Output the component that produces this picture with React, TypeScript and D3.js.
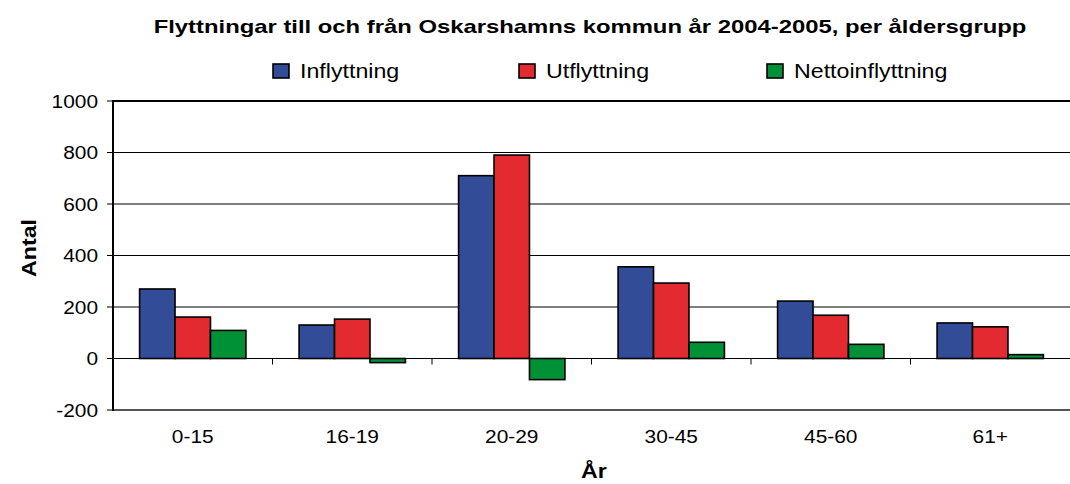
import React from "react";
import * as d3 from "d3";

const categories = ["0-15", "16-19", "20-29", "30-45", "45-60", "61+"];
const seriesNames = ["Inflyttning", "Utflyttning", "Nettoinflyttning"];
const inflyttning = [270, 130, 710, 356, 223, 138];
const utflyttning = [161, 153, 790, 293, 168, 123];
const netto = [109, -16, -82, 63, 55, 15];
const yTicks = [-200, 0, 200, 400, 600, 800, 1000];
const colors = ["#324C98", "#E32A31", "#009036"];

const W = 1070;
const H = 484;
const M = { left: 113, right: 1070, top: 101, bottom: 410 };
const SX = 1.16;
const FONT = "'Liberation Sans', Arial, sans-serif";

function T({ x, y, size, bold, anchor, children, rotate, sx }: any) {
  const s = sx || SX;
  const tr = rotate
    ? `translate(${x},${y}) rotate(-90) scale(${s},1)`
    : `translate(${x},${y}) scale(${s},1)`;
  return (
    <text
      transform={tr}
      fontFamily={FONT}
      fontSize={size}
      fontWeight={bold ? "bold" : "normal"}
      textAnchor={anchor || "start"}
      fill="#000"
    >
      {children}
    </text>
  );
}

export default function App() {
  const series = [inflyttning, utflyttning, netto];
  const x = d3.scaleBand<string>().domain(categories).range([M.left, M.right]).paddingInner(0).paddingOuter(0);
  const bw = x.bandwidth();
  const barW = bw / 4.5;
  const xs = d3.scaleBand<number>().domain([0, 1, 2]).range([0, barW * 3]);
  const y = d3.scaleLinear().domain([-200, 1000]).range([M.bottom, M.top]);
  const y0 = y(0);

  return (
    <svg width={W} height={H} style={{ position: "absolute", left: 0, top: 0, background: "#fff" }}>
      <rect x={0} y={0} width={W} height={H} fill="#fff" />
      {yTicks.map((t) => (
        <line
          key={"g" + t}
          x1={M.left}
          x2={M.right}
          y1={y(t)}
          y2={y(t)}
          stroke={t === -200 ? "#555" : "#000"}
          strokeWidth={t === 1000 || t === -200 ? 2 : 1}
        />
      ))}
      {yTicks.map((t) => (
        <g key={"t" + t}>
          <line x1={M.left - 6} x2={M.left} y1={y(t)} y2={y(t)} stroke="#000" strokeWidth={1} />
          <T x={98} y={y(t) + 6.5} size={18} anchor="end">
            {t}
          </T>
        </g>
      ))}
      {categories.map((c, i) => (
        <g key={c}>
          {series.map((s, j) => {
            const v = s[i];
            const bx = (x(c) as number) + (bw - barW * 3) / 2 + (xs(j) as number);
            return (
              <rect
                key={j}
                x={bx}
                y={v >= 0 ? y(v) : y0}
                width={barW}
                height={Math.abs(y(v) - y0)}
                fill={colors[j]}
                stroke="#000"
                strokeWidth={1.6}
              />
            );
          })}
        </g>
      ))}
      <line x1={M.left} x2={M.right} y1={y0} y2={y0} stroke="#000" strokeWidth={1} />
      {categories.map((c, i) =>
        i > 0 ? (
          <line key={"xt" + c} x1={x(c)} x2={x(c)} y1={y0} y2={y0 + 6} stroke="#000" strokeWidth={1} />
        ) : null
      )}
      <line x1={M.left} x2={M.left} y1={M.top - 1} y2={M.bottom + 1} stroke="#000" strokeWidth={2} />
      {categories.map((c) => (
        <T key={"cl" + c} x={(x(c) as number) + bw / 2} y={443} size={18} anchor="middle">
          {c}
        </T>
      ))}
      <T x={594} y={478} size={20} bold anchor="middle">
        År
      </T>
      <T x={36} y={248} size={20} bold anchor="middle" rotate>
        Antal
      </T>
      <T x={590} y={33} size={18} bold anchor="middle" sx={1.325}>
        Flyttningar till och från Oskarshamns kommun år 2004-2005, per åldersgrupp
      </T>
      {seriesNames.map((n, j) => {
        const lx = [273, 519, 767][j];
        return (
          <g key={n}>
            <rect x={lx} y={64} width={16} height={14} fill={colors[j]} stroke="#000" strokeWidth={1.6} />
            <T x={lx + 27} y={78} size={20}>
              {n}
            </T>
          </g>
        );
      })}
    </svg>
  );
}
